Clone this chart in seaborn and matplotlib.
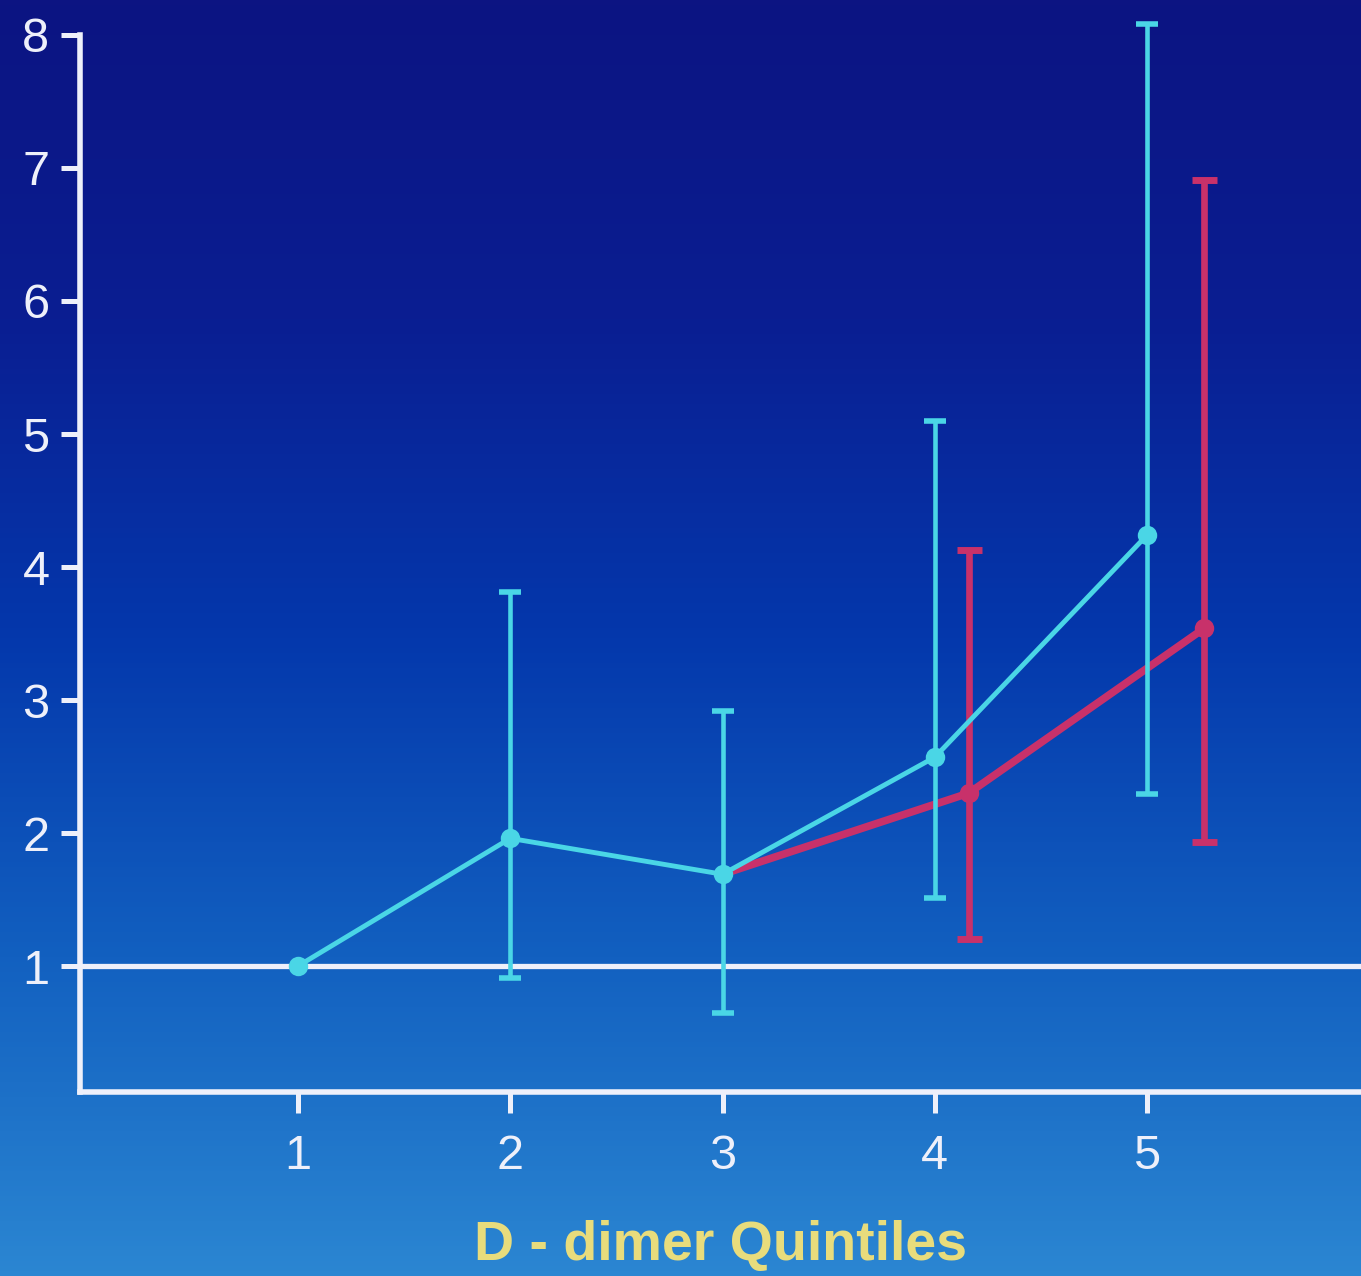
import matplotlib
matplotlib.use("Agg")
import matplotlib.pyplot as plt
import seaborn as sns
import numpy as np
import pandas as pd
from matplotlib.colors import LinearSegmentedColormap

# values
quintile = [1, 2, 3, 4, 5]
cyan_or = [1.0, 1.96, 1.69, 2.57, 4.24]
cyan_lo = [1.0, 0.91, 0.65, 1.51, 2.29]
cyan_hi = [1.0, 3.81, 2.92, 5.10, 8.08]

red_x = [3, 4.16, 5.27]
red_or = [1.69, 2.30, 3.54]
red_lo = [1.69, 1.20, 1.93]
red_hi = [1.69, 4.13, 6.91]

cyan = "#4ad6e6"
red = "#c8316a"
white = "#eef0fa"

sns.set_theme(style="white")
plt.rcParams['font.family'] = ['Liberation Sans Narrow', 'Liberation Sans', 'DejaVu Sans']

fig = plt.figure(figsize=(13.61, 12.76), dpi=100)

# background gradient (dark navy top -> lighter blue bottom)
bg = fig.add_axes([0, 0, 1, 1], zorder=-10)
grad_cmap = LinearSegmentedColormap.from_list(
    "slide", ["#0c1482", "#0a1e92", "#0438ac", "#1260c0", "#2b86d2"])
bg.imshow(np.linspace(0, 1, 256).reshape(-1, 1), aspect="auto", cmap=grad_cmap,
          extent=[0, 1, 0, 1], origin="upper")
bg.axis("off")

ax = fig.add_axes([0.0588, 0.1442, 0.9412, 0.8558])
ax.set_facecolor("none")

ax.axhline(1, color=white, lw=3.8, zorder=1)

df_c = pd.DataFrame({"q": quintile, "or": cyan_or})
df_r = pd.DataFrame({"q": red_x, "or": red_or})

# red series first so cyan sits on top at the shared point
ax.errorbar(red_x[1:], red_or[1:],
            yerr=[np.array(red_or[1:]) - np.array(red_lo[1:]),
                  np.array(red_hi[1:]) - np.array(red_or[1:])],
            fmt="none", ecolor=red, elinewidth=4.8, capsize=9, capthick=5, zorder=2)
sns.lineplot(data=df_r, x="q", y="or", ax=ax, color=red, lw=5.5, marker="o",
             markersize=14, markeredgewidth=0, markevery=[1, 2], zorder=3)

ax.errorbar(quintile[1:], cyan_or[1:],
            yerr=[np.array(cyan_or[1:]) - np.array(cyan_lo[1:]),
                  np.array(cyan_hi[1:]) - np.array(cyan_or[1:])],
            fmt="none", ecolor=cyan, elinewidth=3.3, capsize=8, capthick=4, zorder=4)
sns.lineplot(data=df_c, x="q", y="or", ax=ax, color=cyan, lw=3.5, marker="o",
             markersize=14, markeredgewidth=0, zorder=5)

ax.set_xlim(-0.027, 6.008)
ax.set_ylim(0.053, 8.263)
ax.set_xticks(quintile)
ax.set_yticks(range(1, 9))

for s in ["top", "right"]:
    ax.spines[s].set_visible(False)
for s in ["left", "bottom"]:
    ax.spines[s].set_color(white)
    ax.spines[s].set_linewidth(4)
ax.spines["left"].set_bounds(0.053, 8)

ax.tick_params(axis="y", direction="out", length=14, width=3.6, color=white,
               labelcolor=white, labelsize=35, pad=8, left=True)
ax.tick_params(axis="x", direction="out", length=15, width=3.6, color=white,
               labelcolor=white, labelsize=35, pad=15, bottom=True)

ax.set_xlabel("D - dimer Quintiles", color="#e8dc7c", fontsize=40,
              fontweight="bold", labelpad=30)
ax.set_ylabel("")

fig.savefig("out.png", dpi=100)
